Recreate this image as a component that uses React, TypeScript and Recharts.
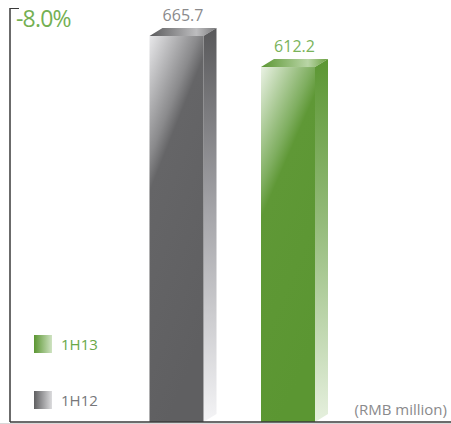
import React from "react";
import { BarChart, Bar, XAxis, YAxis, LabelList } from "recharts";

const categories = ["1H12", "1H13"];
const values = [665.7, 612.2];
const legendOrder = ["1H13", "1H12"];
const yMax = 714;
const unitLabel = "(RMB million)";

const data = categories.map((c, i) => ({ name: c, value: values[i] }));
const change = ((values[1] - values[0]) / values[0]) * 100;
const changeLabel = `${change.toFixed(1)}%`;

const FONT = "'Open Sans', 'Noto Sans', sans-serif";
const DX = 13;
const DY = 8;
const keyFor = (name: string) => (name === "1H12" ? "gr" : "gn");
const labelColor: Record<string, string> = { "1H12": "#8a8a8c", "1H13": "#7ab35a" };
const legendColor: Record<string, string> = { "1H12": "#77777a", "1H13": "#69a848" };

function Box3D(props: any) {
  const { x, y, width, height, payload } = props;
  const k = keyFor(payload.name);
  const top = `${x},${y} ${x + DX},${y - DY} ${x + width + DX},${y - DY} ${x + width},${y}`;
  const side = `${x + width},${y} ${x + width + DX},${y - DY} ${x + width + DX},${y + height - DY} ${x + width},${y + height}`;
  return (
    <g>
      <polygon points={top} fill={`url(#${k}Top)`} />
      <polygon points={side} fill={`url(#${k}Side)`} />
      <rect x={x} y={y} width={width} height={height} fill={`url(#${k}Front)`} />
    </g>
  );
}

function ValueLabel(props: any) {
  const { x, y, width, value, index } = props;
  const name = categories[index];
  return (
    <text
      x={x + (width + DX) / 2}
      y={y - DY - 7}
      textAnchor="middle"
      fill={labelColor[name]}
      fontFamily={FONT}
      fontSize={16}
    >
      {value}
    </text>
  );
}

const swatch: Record<string, string> = {
  "1H13": "linear-gradient(to right, #5b9632, #cfe3c2)",
  "1H12": "linear-gradient(to right, #5f5f61, #dcdcde)",
};

export default function App() {
  return (
    <div style={{ position: "absolute", left: 0, top: 0, width: 451, height: 424, background: "#fff" }}>
      <BarChart
        width={451}
        height={424}
        data={data}
        margin={{ top: 8, right: 0, bottom: 0, left: 10 }}
      >
        <defs>
          <linearGradient id="grFront" x1="0" y1="0" x2="0.35" y2="1">
            <stop offset="0" stopColor="#e8e8ea" />
            <stop offset="0.28" stopColor="#8a8a8c" />
            <stop offset="0.36" stopColor="#656567" />
            <stop offset="1" stopColor="#5f5f61" />
          </linearGradient>
          <linearGradient id="grSide" x1="0" y1="0" x2="0" y2="1">
            <stop offset="0" stopColor="#58585a" />
            <stop offset="0.45" stopColor="#a2a2a6" />
            <stop offset="1" stopColor="#f4f4f6" />
          </linearGradient>
          <linearGradient id="grTop" x1="0" y1="0" x2="1" y2="0">
            <stop offset="0" stopColor="#5a5a5c" />
            <stop offset="0.7" stopColor="#bdbdbf" />
            <stop offset="1" stopColor="#7a7a7c" />
          </linearGradient>
          <linearGradient id="gnFront" x1="0" y1="0" x2="0.35" y2="1">
            <stop offset="0" stopColor="#eaf2e4" />
            <stop offset="0.3" stopColor="#7fae60" />
            <stop offset="0.38" stopColor="#5f9836" />
            <stop offset="1" stopColor="#5b9632" />
          </linearGradient>
          <linearGradient id="gnSide" x1="0" y1="0" x2="0" y2="1">
            <stop offset="0" stopColor="#5b9632" />
            <stop offset="0.45" stopColor="#94bb7a" />
            <stop offset="1" stopColor="#e6f0de" />
          </linearGradient>
          <linearGradient id="gnTop" x1="0" y1="0" x2="1" y2="0">
            <stop offset="0" stopColor="#5b9632" />
            <stop offset="0.7" stopColor="#b9d5a6" />
            <stop offset="1" stopColor="#6aa040" />
          </linearGradient>
        </defs>
        <XAxis
          dataKey="name"
          height={2}
          tick={false}
          tickLine={false}
          axisLine={{ stroke: "#3a3a3a", strokeWidth: 1.5 }}
          padding={{ left: 110.5, right: 107.5 }}
        />
        <YAxis
          width={1}
          mirror
          domain={[0, yMax]}
          tick={false}
          tickLine={false}
          axisLine={{ stroke: "#3a3a3a", strokeWidth: 1.5 }}
        />
        <Bar dataKey="value" barSize={54} shape={<Box3D />} isAnimationActive={false}>
          <LabelList dataKey="value" content={<ValueLabel />} />
        </Bar>
      </BarChart>
      <div
        style={{
          position: "absolute",
          left: 9.5,
          top: 7.5,
          width: 9,
          height: 1.5,
          background: "#3a3a3a",
        }}
      />
      <div
        style={{
          position: "absolute",
          left: 0,
          top: 423,
          width: 451,
          height: 1,
          background: "#d9d9d9",
        }}
      />
      <div
        style={{
          position: "absolute",
          left: 16,
          top: 2,
          fontFamily: FONT,
          fontSize: 23,
          color: "#74b053",
          letterSpacing: -0.8,
          lineHeight: "32px",
        }}
      >
        {changeLabel}
      </div>
      <div
        style={{
          position: "absolute",
          right: 4,
          top: 399,
          fontFamily: FONT,
          fontSize: 15,
          color: "#8a8a8c",
          lineHeight: "20px",
        }}
      >
        {unitLabel}
      </div>
      {legendOrder.map((name, i) => (
        <div
          key={name}
          style={{
            position: "absolute",
            left: 34,
            top: 335 + i * 56,
            display: "flex",
            alignItems: "center",
            fontFamily: FONT,
            fontSize: 15,
            color: legendColor[name],
          }}
        >
          <span style={{ display: "inline-block", width: 18, height: 18, background: swatch[name], marginRight: 9 }} />
          <span style={{ lineHeight: "18px" }}>{name}</span>
        </div>
      ))}
    </div>
  );
}
